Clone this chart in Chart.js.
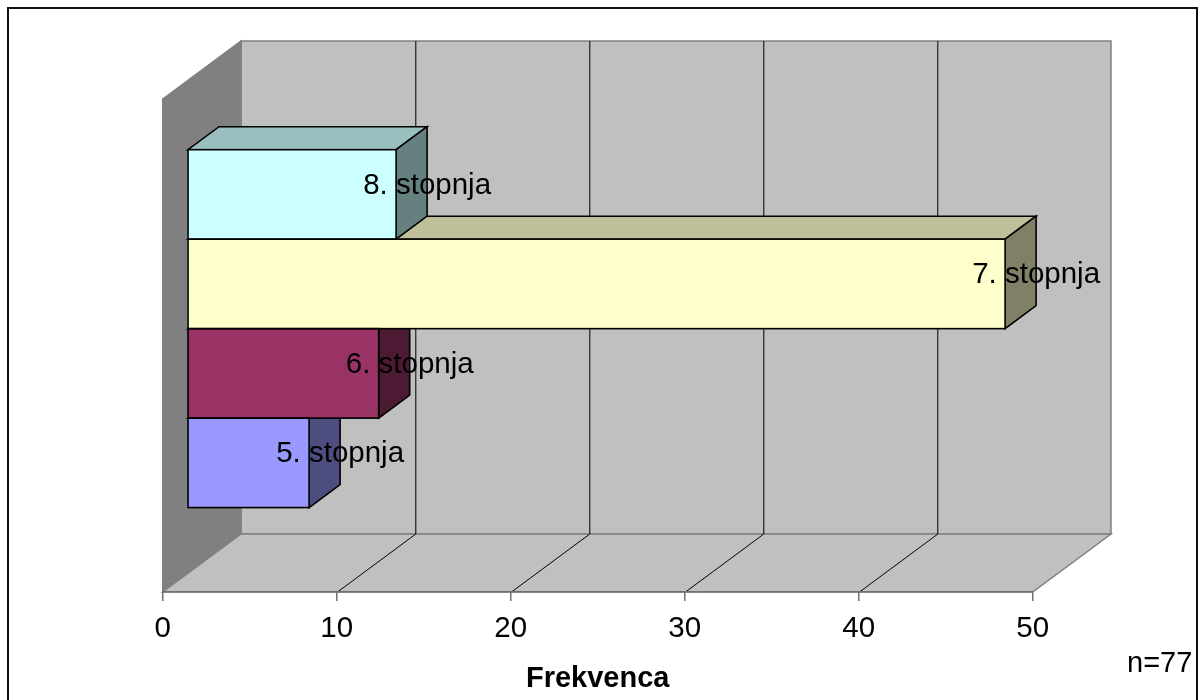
<!DOCTYPE html>
<html>
<head>
<meta charset="utf-8">
<script src="https://cdn.jsdelivr.net/npm/chart.js@4.4.1/dist/chart.umd.min.js"></script>
<style>
  html, body { margin: 0; padding: 0; background: #fff; }
  canvas { display: block; }
</style>
</head>
<body>
<canvas id="chart" width="1203" height="700"></canvas>
<script>
// Education level (stopnja) and how many respondents hold it
const categories = ['5. stopnja', '6. stopnja', '7. stopnja', '8. stopnja'];
const frequencies = [7, 11, 47, 12];
const barColors = ['#9999ff', '#993366', '#ffffcc', '#ccffff'];
const xTicks = [0, 10, 20, 30, 40, 50];
const axisTitle = 'Frekvenca';
const sampleNote = 'n=77';

// Oblique projection of the 3D box: depth vector of the floor, and where the bars sit in it
const DEPTH = { x: 78.3, y: -58 };
const BAR_FRONT = 0.314;
const BAR_DEPTH = 0.396;
const FONT = 'Liberation Sans, Arial, sans-serif';

function shade(hex, f) {
  const n = parseInt(hex.slice(1), 16);
  const r = Math.round(((n >> 16) & 255) * f);
  const g = Math.round(((n >> 8) & 255) * f);
  const b = Math.round((n & 255) * f);
  return `rgb(${r},${g},${b})`;
}

function poly(ctx, pts, fill, stroke, lw) {
  ctx.beginPath();
  ctx.moveTo(pts[0][0], pts[0][1]);
  for (let i = 1; i < pts.length; i++) ctx.lineTo(pts[i][0], pts[i][1]);
  ctx.closePath();
  if (fill) { ctx.fillStyle = fill; ctx.fill(); }
  if (stroke) { ctx.strokeStyle = stroke; ctx.lineWidth = lw || 1; ctx.stroke(); }
}

function line(ctx, x1, y1, x2, y2) {
  ctx.beginPath();
  ctx.moveTo(x1, y1);
  ctx.lineTo(x2, y2);
  ctx.stroke();
}

const box3d = {
  id: 'box3d',
  beforeDraw(chart) {
    const { ctx, chartArea: a, scales: { x } } = chart;
    const dx = DEPTH.x, dy = DEPTH.y;
    ctx.save();
    // outer frame
    ctx.strokeStyle = '#111';
    ctx.lineWidth = 2;
    ctx.strokeRect(8, 8, 1189, 705);
    // back wall
    poly(ctx, [[a.left + dx, a.top + dy], [a.right + dx, a.top + dy],
               [a.right + dx, a.bottom + dy], [a.left + dx, a.bottom + dy]], '#c0c0c0', '#808080', 1.5);
    // left wall
    poly(ctx, [[a.left, a.top], [a.left + dx, a.top + dy],
               [a.left + dx, a.bottom + dy], [a.left, a.bottom]], '#808080', '#808080', 1.5);
    // floor
    poly(ctx, [[a.left, a.bottom], [a.left + dx, a.bottom + dy],
               [a.right + dx, a.bottom + dy], [a.right, a.bottom]], '#c0c0c0', '#808080', 1.5);
    // grid lines on back wall and floor
    ctx.strokeStyle = '#000';
    ctx.lineWidth = 1;
    xTicks.slice(1, -1).forEach(v => {
      const px = Math.round(x.getPixelForValue(v)) + 0.5;
      line(ctx, px + dx, a.top + dy, px + dx, a.bottom + dy);
      line(ctx, px, a.bottom, px + dx, a.bottom + dy);
    });
    ctx.restore();
  },
  beforeDatasetsDraw(chart) {
    const ctx = chart.ctx;
    ctx.save();
    ctx.translate(DEPTH.x * BAR_FRONT, DEPTH.y * BAR_FRONT);
    const ox = DEPTH.x * BAR_DEPTH, oy = DEPTH.y * BAR_DEPTH;
    chart.getDatasetMeta(0).data.forEach((bar, i) => {
      const { x, y, base, height } = bar.getProps(['x', 'y', 'base', 'height'], true);
      const top = y - height / 2, bottom = y + height / 2;
      const col = barColors[i];
      poly(ctx, [[base, top], [x, top], [x + ox, top + oy], [base + ox, top + oy]], shade(col, 0.75), '#000', 1.6);
      poly(ctx, [[x, top], [x + ox, top + oy], [x + ox, bottom + oy], [x, bottom]], shade(col, 0.5), '#000', 1.6);
    });
  },
  afterDatasetsDraw(chart) {
    const ctx = chart.ctx;
    const ox = DEPTH.x * BAR_DEPTH, oy = DEPTH.y * BAR_DEPTH;
    const meta = chart.getDatasetMeta(0);
    ctx.strokeStyle = '#000';
    ctx.lineWidth = 1.6;
    meta.data.forEach(bar => {
      const { x, y, base, height } = bar.getProps(['x', 'y', 'base', 'height'], true);
      ctx.strokeRect(base, y - height / 2, x - base, height);
    });
    // category names at the far end of each bar
    ctx.fillStyle = '#000';
    ctx.font = `29.5px ${FONT}`;
    ctx.textAlign = 'center';
    ctx.textBaseline = 'middle';
    meta.data.forEach((bar, i) => {
      const { x, y } = bar.getProps(['x', 'y'], true);
      ctx.fillText(categories[i], x + ox, y + oy / 2 + 2.5);
    });
    ctx.restore();
    // sample size
    ctx.save();
    ctx.fillStyle = '#000';
    ctx.font = `29px ${FONT}`;
    ctx.textAlign = 'left';
    ctx.textBaseline = 'alphabetic';
    ctx.fillText(sampleNote, 1127, 672);
    ctx.restore();
  }
};

new Chart(document.getElementById('chart'), {
  type: 'bar',
  data: {
    datasets: [{
      data: categories.map((c, i) => ({ x: frequencies[i], y: i })),
      backgroundColor: barColors,
      borderWidth: 0,
      barPercentage: 1,
      categoryPercentage: 1,
      clip: false
    }]
  },
  options: {
    indexAxis: 'y',
    responsive: false,
    animation: false,
    layout: { padding: { left: 162.7, right: 170.3, top: 99, bottom: 0 } },
    plugins: { legend: { display: false }, tooltip: { enabled: false } },
    scales: {
      x: {
        type: 'linear',
        position: 'bottom',
        min: xTicks[0],
        max: xTicks[xTicks.length - 1],
        afterBuildTicks: s => { s.ticks = xTicks.map(v => ({ value: v })); },
        afterFit: s => { s.height = 108; },
        grid: { drawOnChartArea: false, drawTicks: true, tickLength: 9, color: '#707070', lineWidth: 1.5 },
        border: { display: true, color: '#707070', width: 1.5 },
        ticks: { color: '#000', font: { family: FONT, size: 29.5 }, padding: 10, maxRotation: 0 },
        title: { display: true, text: axisTitle, color: '#000', font: { family: FONT, size: 29, weight: 'bold' }, padding: { top: 0, bottom: 4 } }
      },
      y: {
        type: 'linear',
        display: false,
        offset: false,
        min: -1.24,
        max: 4.27,
        // one tick per category so each bar fills its whole slot
        afterBuildTicks: s => { s.ticks = categories.map((c, i) => ({ value: i })); }
      }
    }
  },
  plugins: [box3d]
});
</script>
</body>
</html>
